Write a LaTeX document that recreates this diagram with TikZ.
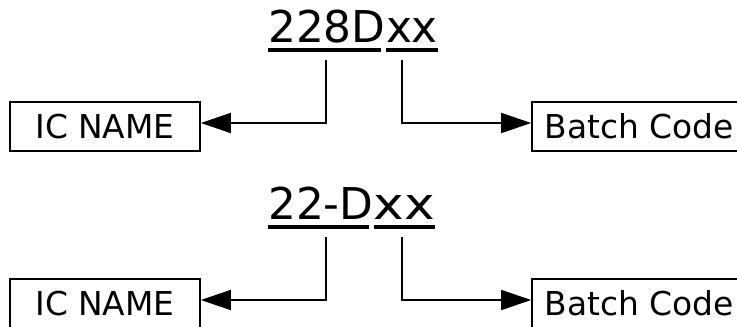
\documentclass[tikz,border=0pt]{standalone}
\usepackage{graphicx}
\usepackage{fontspec}
\setmainfont{DejaVu Sans}
\usetikzlibrary{arrows.meta,positioning,calc}
\tikzset{
  >={Triangle[length=30bp,width=20bp]},
  box/.style={draw,line width=1.6bp,minimum width=190bp,minimum height=49bp,inner sep=0pt,font=\fontsize{33}{38}\selectfont},
  code/.style={inner sep=0pt,font=\fontsize{44}{50}\selectfont},
  uline/.style={line width=3.5bp},
  arr/.style={->,line width=1.6bp},
}

\begin{document}
\begin{tikzpicture}[x=1bp,y=1bp]
\useasboundingbox (0,0) rectangle (737,326);
\foreach \row/\dy/\txt/\sx in {1/0/228D/1,2/177/22-D/1.18}{
  % marking with its two parts
  \node[code,anchor=base west] (ic\row) at (268,284-\dy) {\txt};
  \node[code,anchor=base west] (bc\row) at (ic\row.base east) {\scalebox{\sx}[1]{xx}};
  \draw[uline] (ic\row.west |- 0,276-\dy) -- ($(ic\row.east |- 0,276-\dy)+(-5,0)$);
  \draw[uline] (bc\row.west |- 0,276-\dy) -- (bc\row.east |- 0,276-\dy);
  \node[box] (name\row) at (105,199.5-\dy) {IC NAME};
  \node[box,minimum width=214bp] (batch\row) at (639,199.5-\dy) {Batch Code};
  \coordinate (sa\row) at (326,266-\dy);
  \coordinate (ka\row) at (326,203-\dy);
  \coordinate (sb\row) at (402,266-\dy);
  \coordinate (kb\row) at (402,203-\dy);
  \draw[arr] (sa\row) -- (ka\row) -- (ka\row -| name\row.east);
  \draw[arr] (sb\row) -- (kb\row) -- (kb\row -| batch\row.west);
}
\end{tikzpicture}
\end{document}
